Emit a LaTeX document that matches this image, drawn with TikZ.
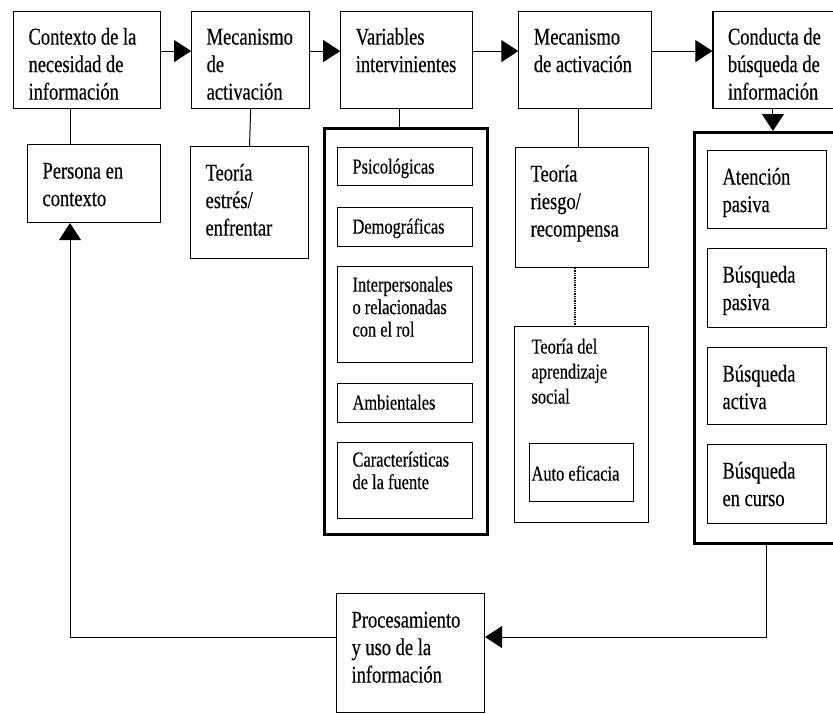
\documentclass[tikz,border=0pt]{standalone}
\usepackage{fontspec}
\setmainfont{Liberation Serif}[FakeStretch=0.77, FakeBold=0.3]
\usetikzlibrary{positioning, arrows.meta}

\newcommand{\cajatxt}[4]{\parbox[c][#2][t]{#1}{\rule{0pt}{#3}#4}}
\newcommand{\grande}{\fontsize{24}{27.5}\selectfont}
\newcommand{\chica}{\fontsize{21.3}{22.5}\selectfont}

\begin{document}
\begin{tikzpicture}[x=1pt, y=1pt, >={Triangle[length=17pt, width=22pt]}, node distance=30pt,
    caja/.style={draw, line width=1.1pt, inner xsep=15pt, inner ysep=0pt, anchor=north west, font=\grande},
    marco/.style={draw, line width=3pt, inner sep=0pt, anchor=north west},
    linea/.style={line width=1pt}]
  \useasboundingbox (0,0) rectangle (833,-713);
  \clip (0,0) rectangle (833,-713);

  % fila de arriba
  \node[caja] (ctx) at (13,-11) {\cajatxt{117pt}{97pt}{33pt}{Contexto de la\\necesidad de\\información}};
  \node[caja] (act1) [right=of ctx] {\cajatxt{88pt}{97pt}{33pt}{Mecanismo\\de\\activación}};
  \node[caja] (var) [right=of act1] {\cajatxt{102pt}{97pt}{33pt}{Variables\\intervinientes}};
  \node[caja] (act2) [right=45pt of var] {\cajatxt{103pt}{97pt}{33pt}{Mecanismo\\de activación}};
  \node[caja] (busq) [right=60pt of act2] {\cajatxt{120pt}{97pt}{33pt}{Conducta de\\búsqueda de\\información}};

  % teorias
  \node[caja] (per) at (27,-144) {\cajatxt{103pt}{78pt}{34pt}{Persona en\\contexto}};
  \node[caja] (teoE) at (190,-146) {\cajatxt{88pt}{112pt}{34pt}{Teoría\\estrés/\\enfrentar}};
  \node[caja] (teoR) at (515,-147) {\cajatxt{103pt}{120pt}{34pt}{Teoría\\riesgo/\\recompensa}};
  \node[caja, inner xsep=17pt, font=\fontsize{21.3}{25}\selectfont] (apr) at (514,-326)
    {\cajatxt{100pt}{196pt}{27pt}{Teoría del\\aprendizaje\\social}};
  \node[caja, inner xsep=2pt, font=\chica] (auto) at (529,-443) {\cajatxt{100pt}{58pt}{37pt}{Auto eficacia}};

  % variables
  \node[marco, minimum width=163pt, minimum height=406pt] (vars) at (323,-127) {};
  \node[caja, font=\chica] (psi) at (337,-147) {\cajatxt{105pt}{38pt}{26pt}{Psicológicas}};
  \node[caja, font=\chica] (dem) at (337,-207) {\cajatxt{105pt}{39pt}{26pt}{Demográficas}};
  \node[caja, font=\chica] (inter) at (337,-266) {\cajatxt{105pt}{96pt}{25pt}{Interpersonales\\o relacionadas\\con el rol}};
  \node[caja, font=\chica] (amb) at (337,-383) {\cajatxt{105pt}{39pt}{26pt}{Ambientales}};
  \node[caja, font=\chica] (car) at (337,-442) {\cajatxt{105pt}{76pt}{24pt}{Características\\de la fuente}};

  % conductas
  \node[marco, minimum width=160pt, minimum height=411pt] (cond) at (693,-131) {};
  \node[caja] (ate) at (707,-150) {\cajatxt{89pt}{78pt}{34pt}{Atención\\pasiva}};
  \node[caja] (bpas) at (707,-248) {\cajatxt{89pt}{79pt}{34pt}{Búsqueda\\pasiva}};
  \node[caja] (bact) at (707,-347) {\cajatxt{89pt}{77pt}{34pt}{Búsqueda\\activa}};
  \node[caja] (bcur) at (707,-444) {\cajatxt{89pt}{79pt}{34pt}{Búsqueda\\en curso}};

  \node[caja] (proc) at (336,-593) {\cajatxt{118pt}{119pt}{34pt}{Procesamiento\\y uso de la\\información}};

  \path[->, linea]
    ([yshift=9pt]ctx.east) edge ([yshift=9pt]act1.west)
    ([yshift=9pt]act1.east) edge ([yshift=9pt]var.west)
    ([yshift=9pt]var.east) edge ([yshift=9pt]act2.west)
    ([yshift=9pt]act2.east) edge ([yshift=9pt]busq.west)
    ([xshift=-15pt]busq.south) edge ([xshift=-15pt]busq.south |- cond.north)
  ;
  \draw[linea] ([xshift=43pt]per.north west) -- ([xshift=43pt]per.north west |- ctx.south);
  \draw[linea] (act1.south) -- (teoE.north);
  \draw[linea] ([xshift=-7pt]var.south) -- ([xshift=-7pt]var.south |- vars.north);
  \draw[linea] ([xshift=-7pt]act2.south) -- ([xshift=-7pt]act2.south |- teoR.north);
  \draw[line width=1.3pt, densely dotted] ([xshift=-7pt]teoR.south) -- ([xshift=-7pt]teoR.south |- apr.north);
  \draw[->, linea] ([xshift=73pt]cond.south west) |- ([yshift=16pt]proc.east);
  \draw[->, linea] ([yshift=16pt]proc.west) -| ([xshift=43pt]per.south west);
\end{tikzpicture}
\end{document}
